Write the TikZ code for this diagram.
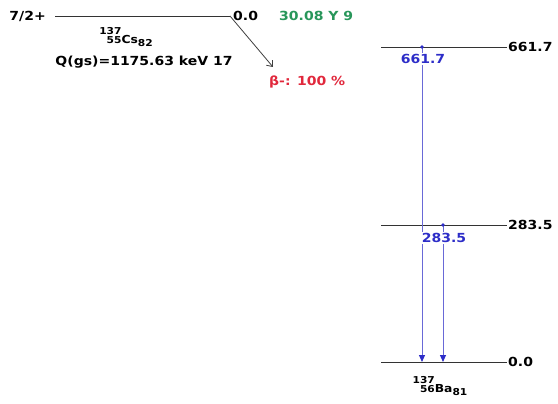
\documentclass[tikz,border=0pt]{standalone}
\usepackage{fontspec}
\setmainfont{DejaVu Sans}
\newfontfamily\lblfont[FakeStretch=1.12]{DejaVu Sans Bold}
\usetikzlibrary{arrows.meta}
\definecolor{gblue}{RGB}{45,45,200}
\definecolor{lblue}{RGB}{105,105,215}
\definecolor{hgreen}{RGB}{40,150,90}
\definecolor{bred}{RGB}{225,40,60}
\newlength{\nucw}
\newcommand{\idx}[1]{{\fontsize{9.5}{9.5}\selectfont #1}}
\newcommand{\nucl}[4]{\settowidth{\nucw}{\idx{#1}}\hspace*{\nucw}\makebox[0pt][r]{\raisebox{9pt}{\idx{#1}}}\makebox[0pt][r]{\raisebox{0pt}{\idx{#2}}}{\fontsize{11}{11}\selectfont #3}\raisebox{-2.5pt}{\idx{#4}}}
\begin{document}
\begin{tikzpicture}[x=1pt,y=-1pt,
  lvl/.style={draw=black!80, line width=0.9pt},
  txt/.style={font=\lblfont\fontsize{12.5}{13}\selectfont, inner sep=1pt},
  bluelbl/.style={txt, fill=white, text=gblue},
  gline/.style={draw=lblue, line width=1pt, -{Triangle[color=gblue,length=7pt,width=6pt]}},
  gdot/.style={fill=gblue}]
\fill[white] (0,0) rectangle (558,404);
\useasboundingbox (0,0) rectangle (558,404);
% parent level
\coordinate (csL) at (55,16);
\coordinate (csR) at (230,16);
\coordinate (bend) at (273,67);
\draw[lvl] (csL) -- (csR);
\draw[black!75, line width=0.8pt, -{Straight Barb[length=5pt,width=8pt]}] (csR) -- (bend);
\node[txt, anchor=east] (spin) at (47,16) {7/2+};
\node[txt, anchor=west] (e0) at (232,16) {0.0};
\node[txt, anchor=west, text=hgreen] (hl) at (278,16) {30.08 Y 9};
\node[txt] (csn) at (126,37) {\nucl{137}{55}{Cs}{82}};
\node[txt] (q) at (144,62) {Q(gs)=1175.63 keV 17};
\node[txt, anchor=west, text=bred] (beta) at (268,82) {β-: 100 \%};
% daughter levels
\coordinate (l1L) at (381,47); \coordinate (l1R) at (507,47);
\coordinate (l2L) at (381,225); \coordinate (l2R) at (507,225);
\coordinate (l0L) at (381,362); \coordinate (l0R) at (507,362);
\draw[lvl] (l1L) -- (l1R);
\draw[lvl] (l2L) -- (l2R);
\draw[lvl] (l0L) -- (l0R);
\node[txt, anchor=west] (t1) at (l1R) {661.7};
\node[txt, anchor=west] (t2) at (l2R) {283.5};
\node[txt, anchor=west] (t0) at (l0R) {0.0};
% gammas
\coordinate (g1s) at (422,47); \coordinate (g1e) at (422,362);
\coordinate (g2s) at (443,225); \coordinate (g2e) at (443,362);
\draw[gline] (g1s) -- (g1e);
\draw[gline] (g2s) -- (g2e);
\fill[gdot] (g1s) circle (1.8pt);
\fill[gdot] (g2s) circle (1.8pt);
\node[bluelbl] (b1) at (423,59) {661.7};
\node[bluelbl] (b2) at (444,238) {283.5};
\node[txt] (ban) at (440,386) {\nucl{137}{56}{Ba}{81}};
\end{tikzpicture}
\end{document}
